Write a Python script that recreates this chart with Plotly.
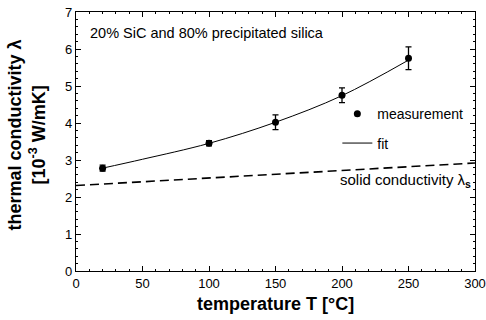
import plotly.graph_objects as go

# measurements
T_meas = [20, 100, 150, 200, 250]
lam_meas = [2.78, 3.45, 4.02, 4.75, 5.75]
lam_err = [0.08, 0.07, 0.2, 0.2, 0.31]

# fit curve
T_fit = [20, 50, 100, 150, 200, 250]
lam_fit = [2.78, 3.02, 3.45, 4.02, 4.74, 5.70]

# solid conductivity
T_solid = [0, 300]
lam_solid = [2.31, 2.92]

x_ticks = [0, 50, 100, 150, 200, 250, 300]
y_ticks = [0, 1, 2, 3, 4, 5, 6, 7]

FONT = "Liberation Sans, Arial, sans-serif"

fig = go.Figure()

fig.add_trace(go.Scatter(
    x=T_meas, y=lam_meas, mode="markers", name="measurement",
    marker=dict(color="black", size=7, symbol="circle"),
    error_y=dict(type="data", array=lam_err, color="black", thickness=1.3, width=3),
    legendgroup="a", legendrank=1))

fig.add_trace(go.Scatter(
    x=T_fit, y=lam_fit, mode="lines", name="fit",
    line=dict(color="black", width=1, shape="spline"),
    legendgroup="b", legendrank=2))

fig.add_trace(go.Scatter(
    x=T_solid, y=lam_solid, mode="lines",
    line=dict(color="black", width=1.6, dash="9px,5px"),
    showlegend=False, hoverinfo="skip"))

axis_common = dict(
    showline=True, linecolor="black", linewidth=1.2, mirror="ticks",
    ticks="inside", ticklen=5, tickwidth=1, tickcolor="black",
    showgrid=False, zeroline=False, automargin=False,
    tickfont=dict(family=FONT, size=13, color="black"),
)

fig.update_xaxes(range=[0, 300], tickvals=x_ticks,
                 minor=dict(ticks="inside", ticklen=2, dtick=10, tickcolor="black"),
                 **axis_common)
fig.update_yaxes(range=[0, 7], tickvals=y_ticks,
                 minor=dict(ticks="inside", ticklen=2, dtick=0.2, tickcolor="black"),
                 **axis_common)

fig.update_layout(
    width=486, height=320,
    margin=dict(l=76, r=11, t=12, b=49, autoexpand=False),
    paper_bgcolor="white", plot_bgcolor="white",
    font=dict(family=FONT, color="black"),
    legend=dict(x=0.655, y=0.667, xanchor="left", yanchor="top",
                bgcolor="rgba(0,0,0,0)", borderwidth=0,
                font=dict(family=FONT, size=14),
                traceorder="grouped", tracegroupgap=8, itemwidth=30),
    annotations=[
        dict(text="20% SiC and 80% precipitated silica", xref="paper", yref="paper",
             x=0.03, y=0.92, xanchor="left", yanchor="middle", showarrow=False,
             font=dict(family=FONT, size=14.5)),
        dict(text="solid conductivity λ<sub><b>s</b></sub>", xref="paper", yref="paper",
             x=0.995, y=0.35, xanchor="right", yanchor="middle", showarrow=False,
             font=dict(family=FONT, size=15)),
        dict(text="<b>temperature T [°C]</b>", xref="paper", yref="paper",
             x=0.5, y=-0.08, xanchor="center", yanchor="top", showarrow=False,
             font=dict(family=FONT, size=18)),
        dict(text="<b>thermal conductivity λ</b><br><b>[10<sup>-3</sup> W/mK]</b>",
             xref="paper", yref="paper",
             x=-0.123, y=0.527, xanchor="center", yanchor="middle", showarrow=False,
             textangle=-90, font=dict(family=FONT, size=18)),
    ],
)

fig.write_html("out.html", config={"displayModeBar": False},
               post_script="document.body.style.margin='0';")
